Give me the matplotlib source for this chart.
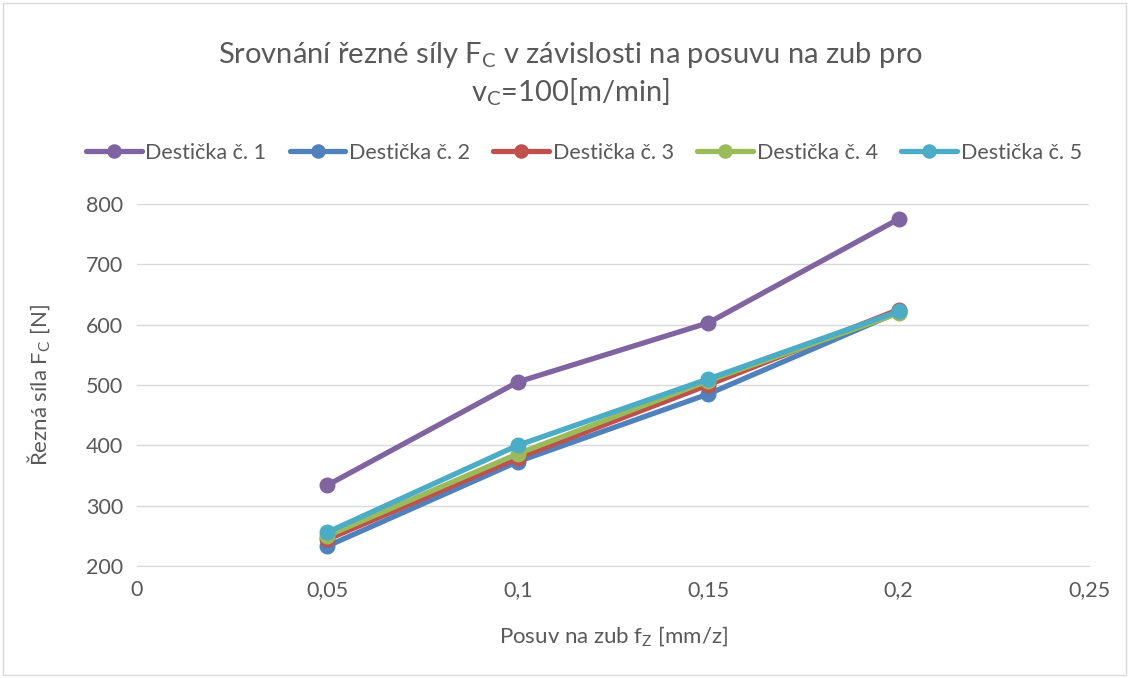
import matplotlib.pyplot as plt

# Rezna sila Fc pro jednotlive desticky, vc = 100 m/min
posuv = [0.05, 0.1, 0.15, 0.2]
desticka_1 = [334, 505, 603, 775]
desticka_2 = [233, 373, 485, 621]
desticka_3 = [244, 379, 500, 625]
desticka_4 = [250, 386, 507, 619]
desticka_5 = [256, 400, 510, 622]
nazvy = ['Destička č. 1', 'Destička č. 2', 'Destička č. 3', 'Destička č. 4', 'Destička č. 5']
x_ticks = [0, 0.05, 0.1, 0.15, 0.2, 0.25]
x_labels = ['0', '0,05', '0,1', '0,15', '0,2', '0,25']
y_ticks = [200, 300, 400, 500, 600, 700, 800]

barvy = ['#8064A2', '#4F81BD', '#C0504D', '#9BBB59', '#4BACC6']
text_col = '#595959'

plt.rcParams['font.family'] = ['Lato', 'DejaVu Sans']

fig = plt.figure(figsize=(11.29, 6.78), dpi=100)
ax = fig.add_axes([137 / 1129, 1 - 566 / 678, (1089 - 137) / 1129, (566 - 204) / 678])

for y, nazev, c in zip([desticka_1, desticka_2, desticka_3, desticka_4, desticka_5], nazvy, barvy):
    ax.plot(posuv, y, color=c, lw=3.8, marker='o', ms=10.5, label=nazev,
            solid_capstyle='round')

ax.set_xlim(0, 0.25)
ax.set_ylim(200, 800)
ax.set_xticks(x_ticks)
ax.set_xticklabels(x_labels)
ax.set_yticks(y_ticks)
ax.grid(axis='y', color='#D9D9D9', lw=1)
ax.set_axisbelow(True)
for s in ['top', 'right', 'left']:
    ax.spines[s].set_visible(False)
ax.spines['bottom'].set_color('#D9D9D9')
ax.tick_params(length=0, labelsize=15.5, colors=text_col, pad=10)

ax.set_xlabel('Posuv na zub f$_\\mathregular{Z}$ [mm/z]', fontsize=16, color=text_col, labelpad=18)
ax.set_ylabel('Řezná síla F$_\\mathregular{C}$ [N]', fontsize=16, color=text_col, labelpad=24)

fig.text(0.505, 1 - 74 / 678, 'Srovnání řezné síly F$_\\mathregular{C}$ v závislosti na posuvu na zub pro\nv$_\\mathregular{C}$=100[m/min]',
         ha='center', va='center', fontsize=21, color=text_col, linespacing=1.25)

fig.legend(loc='center', bbox_to_anchor=(0.517, 1 - 153 / 678), ncol=5, frameon=False,
           fontsize=15.5, handlelength=2.6, handletextpad=0.15, columnspacing=1.1,
           labelcolor=text_col, markerscale=0.9)

fig.patches.append(plt.Rectangle((0.003, 0.004), 0.994, 0.992, transform=fig.transFigure,
                                 fill=False, edgecolor='#D9D9D9', lw=1))

fig.savefig('out.png', dpi=100)
